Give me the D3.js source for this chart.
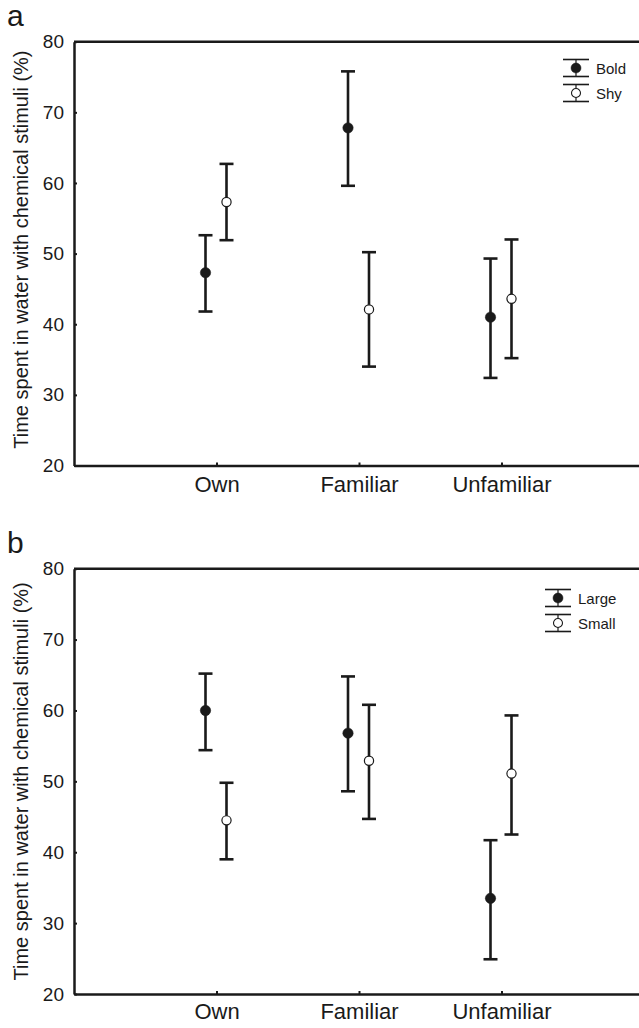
<!DOCTYPE html>
<html>
<head>
<meta charset="utf-8">
<script src="https://cdn.jsdelivr.net/npm/d3@7"></script>
<style>
    body { margin: 0; background: #fff; }
    svg { display: block; font-family: "Liberation Sans", Arial, Helvetica, sans-serif; }
</style>
</head>
<body>
<div id="chart"></div>
<script>
// categories and ticks
const categories = ['Own', 'Familiar', 'Unfamiliar'];
const yTicks = [20, 30, 40, 50, 60, 70, 80];
const yTitle = 'Time spent in water with chemical stimuli (%)';

// panel a: personality (means with upper/lower bars)
const boldMean = [47.3, 67.8, 41.0];
const boldLow = [41.8, 59.6, 32.4];
const boldHigh = [52.6, 75.8, 49.3];
const shyMean = [57.3, 42.1, 43.6];
const shyLow = [51.9, 34.0, 35.2];
const shyHigh = [62.7, 50.2, 52.0];

// panel b: body size
const largeMean = [60.0, 56.8, 33.5];
const largeLow = [54.4, 48.6, 24.9];
const largeHigh = [65.2, 64.8, 41.7];
const smallMean = [44.5, 52.9, 51.1];
const smallLow = [39.0, 44.7, 42.5];
const smallHigh = [49.8, 60.8, 59.3];

const width = 639, height = 1028;
const ink = '#1a1a1a';

const svg = d3.select('#chart').append('svg')
    .attr('width', width)
    .attr('height', height);

function drawPanel(cfg) {
    const g = svg.append('g');

    const xScale = d3.scaleLinear().domain([0, 4]).range([74, 644]);
    const yScale = d3.scaleLinear().domain([20, 80]).range([cfg.bottom, cfg.top]);

    // panel letter
    g.append('text')
        .attr('x', 7)
        .attr('y', cfg.letterY)
        .attr('font-size', 30)
        .attr('fill', ink)
        .text(cfg.letter);

    // frame: top line (left/bottom come from the axes)
    g.append('line')
        .attr('x1', xScale(0)).attr('x2', xScale(4))
        .attr('y1', yScale(80)).attr('y2', yScale(80))
        .attr('stroke', ink).attr('stroke-width', 2.5);

    const yAxis = d3.axisLeft(yScale)
        .tickValues(yTicks)
        .tickSize(-3)
        .tickSizeOuter(0)
        .tickPadding(10);

    const gY = g.append('g')
        .attr('transform', `translate(${xScale(0)},0)`)
        .call(yAxis);
    gY.selectAll('text').attr('font-size', 19).attr('fill', ink).attr('font-family', null);
    gY.selectAll('line').attr('stroke', ink).attr('stroke-width', 2);
    gY.select('.domain').attr('stroke', ink).attr('stroke-width', 2.5);

    const xAxis = d3.axisBottom(xScale)
        .tickValues([1, 2, 3])
        .tickFormat(d => categories[d - 1])
        .tickSize(-3)
        .tickSizeOuter(0)
        .tickPadding(cfg.xPad);

    const gX = g.append('g')
        .attr('transform', `translate(0,${cfg.bottom})`)
        .call(xAxis);
    gX.selectAll('text').attr('font-size', 22).attr('fill', ink).attr('font-family', null);
    gX.selectAll('line').attr('stroke', ink).attr('stroke-width', 2);
    gX.select('.domain').attr('stroke', ink).attr('stroke-width', 2.5);

    // y axis title
    g.append('text')
        .attr('transform', `translate(28,${(cfg.top + cfg.bottom) / 2 - cfg.titleShift}) rotate(-90)`)
        .attr('text-anchor', 'middle')
        .attr('font-size', 20)
        .attr('fill', ink)
        .text(yTitle);

    // series
    cfg.series.forEach(s => {
        const rows = categories.map((c, i) => ({
            x: xScale(i + 1) + s.offset,
            mean: s.mean[i], low: s.low[i], high: s.high[i]
        }));
        const sg = g.append('g');
        sg.selectAll('line.stem').data(rows).enter().append('line')
            .attr('x1', d => d.x).attr('x2', d => d.x)
            .attr('y1', d => yScale(d.low)).attr('y2', d => yScale(d.high))
            .attr('stroke', ink).attr('stroke-width', 2.6);
        sg.selectAll('line.capHi').data(rows).enter().append('line')
            .attr('x1', d => d.x - 7).attr('x2', d => d.x + 7)
            .attr('y1', d => yScale(d.high)).attr('y2', d => yScale(d.high))
            .attr('stroke', ink).attr('stroke-width', 2.6);
        sg.selectAll('line.capLo').data(rows).enter().append('line')
            .attr('x1', d => d.x - 7).attr('x2', d => d.x + 7)
            .attr('y1', d => yScale(d.low)).attr('y2', d => yScale(d.low))
            .attr('stroke', ink).attr('stroke-width', 2.6);
        sg.selectAll('circle').data(rows).enter().append('circle')
            .attr('cx', d => d.x)
            .attr('cy', d => yScale(d.mean))
            .attr('r', s.filled ? 5.2 : 4.6)
            .attr('fill', s.filled ? ink : '#fff')
            .attr('stroke', ink)
            .attr('stroke-width', s.filled ? 0.5 : 1.2);
    });

    // legend
    const lg = g.append('g')
        .attr('transform', `translate(${cfg.legendX},${cfg.legendY})`);
    cfg.series.forEach((s, i) => {
        const cy = i * 25;
        const item = lg.append('g').attr('transform', `translate(0,${cy})`);
        item.append('line').attr('x1', -13).attr('x2', 13).attr('y1', -8.5).attr('y2', -8.5)
            .attr('stroke', ink).attr('stroke-width', 1.6);
        item.append('line').attr('x1', -13).attr('x2', 13).attr('y1', 8.5).attr('y2', 8.5)
            .attr('stroke', ink).attr('stroke-width', 1.6);
        item.append('line').attr('x1', 0).attr('x2', 0).attr('y1', -8.5).attr('y2', 8.5)
            .attr('stroke', ink).attr('stroke-width', 1.2);
        item.append('circle')
            .attr('r', s.filled ? 5 : 4.5)
            .attr('fill', s.filled ? ink : '#fff')
            .attr('stroke', ink)
            .attr('stroke-width', s.filled ? 0.5 : 1.1);
        item.append('text')
            .attr('x', 20)
            .attr('y', 5.5)
            .attr('font-size', 15)
            .attr('fill', ink)
            .text(s.name);
    });
}

drawPanel({
    letter: 'a', letterY: 26, top: 41.7, bottom: 465.5, xPad: 11, titleShift: 4,
    legendX: 576, legendY: 68,
    series: [
        {name: 'Bold', mean: boldMean, low: boldLow, high: boldHigh, filled: true, offset: -11},
        {name: 'Shy', mean: shyMean, low: shyLow, high: shyHigh, filled: false, offset: 10}
    ]
});

drawPanel({
    letter: 'b', letterY: 553, top: 568.7, bottom: 994, xPad: 9, titleShift: 0,
    legendX: 558, legendY: 598,
    series: [
        {name: 'Large', mean: largeMean, low: largeLow, high: largeHigh, filled: true, offset: -11},
        {name: 'Small', mean: smallMean, low: smallLow, high: smallHigh, filled: false, offset: 10}
    ]
});
</script>
</body>
</html>
